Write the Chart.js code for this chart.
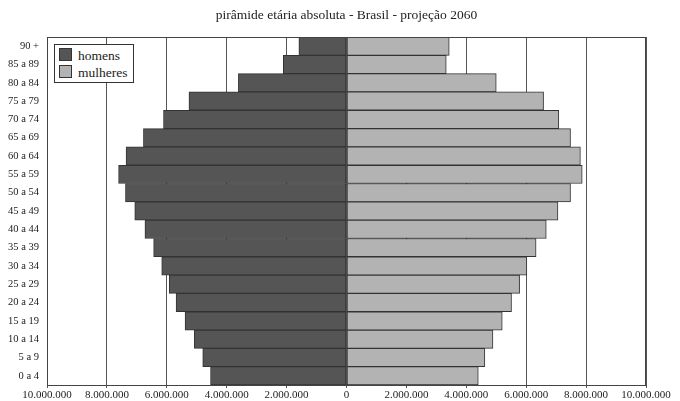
<!DOCTYPE html>
<html>
<head>
<meta charset="utf-8">
<script src="https://cdn.jsdelivr.net/npm/chart.js@4"></script>
<style>
  body { margin: 0; background: #fff; }
  #wrap { position: relative; width: 680px; height: 401px; }
  #legend {
    position: absolute; left: 54px; top: 44px; width: 74px;
    border: 1px solid #333; background: #fff; padding: 2px 0 1px 4px;
    font-family: "Liberation Serif", serif; font-size: 13.5px; color: #222;
  }
  #legend div { height: 17px; line-height: 17px; white-space: nowrap; }
  #legend span {
    display: inline-block; width: 11px; height: 11px; border: 1px solid #333;
    vertical-align: -1px; margin-right: 6px;
  }
</style>
</head>
<body>
<div id="wrap">
  <canvas id="myChart1"></canvas>
  <div id="legend"></div>
</div>
<script>
const ctx = document.getElementById('myChart1');

// faixas etárias, de cima para baixo
const faixas = ['90 +', '85 a 89', '80 a 84', '75 a 79', '70 a 74', '65 a 69', '60 a 64',
  '55 a 59', '50 a 54', '45 a 49', '40 a 44', '35 a 39', '30 a 34', '25 a 29',
  '20 a 24', '15 a 19', '10 a 14', '5 a 9', '0 a 4'];
const homens = [1590000, 2110000, 3610000, 5260000, 6110000, 6780000, 7360000,
  7610000, 7380000, 7070000, 6730000, 6440000, 6170000, 5920000,
  5690000, 5390000, 5080000, 4800000, 4540000];
const mulheres = [3430000, 3330000, 5000000, 6580000, 7090000, 7480000, 7810000,
  7870000, 7480000, 7060000, 6670000, 6330000, 6020000, 5780000,
  5510000, 5200000, 4890000, 4620000, 4400000];
const xTicks = [-10000000, -8000000, -6000000, -4000000, -2000000, 0,
  2000000, 4000000, 6000000, 8000000, 10000000];

const cores = { homens: '#555555', mulheres: '#b3b3b3' };

function fmt(v) {
  return Math.abs(v).toString().replace(/\B(?=(\d{3})+(?!\d))/g, '.');
}

// moldura da área do gráfico
const moldura = {
  id: 'moldura',
  afterDatasetsDraw(chart) {
    const a = chart.chartArea, c = chart.ctx;
    c.save();
    c.strokeStyle = '#444';
    c.lineWidth = 1;
    c.strokeRect(a.left + 0.5, a.top + 0.5, a.right - a.left - 1, a.bottom - a.top);
    c.restore();
  }
};

const chart = new Chart(ctx, {
  type: 'bar',
  data: {
    labels: faixas,
    datasets: [{
      label: 'homens',
      data: homens.map(v => -v),
      backgroundColor: cores.homens,
      borderColor: '#333',
      borderWidth: 1,
      borderSkipped: false
    }, {
      label: 'mulheres',
      data: mulheres,
      backgroundColor: cores.mulheres,
      borderColor: '#333',
      borderWidth: 1,
      borderSkipped: false
    }]
  },
  options: {
    indexAxis: 'y',
    responsive: true,
    maintainAspectRatio: false,
    animation: false,
    barPercentage: 1,
    categoryPercentage: 1,
    layout: { padding: { left: 0, right: 34, top: 0, bottom: 0 } },
    plugins: {
      legend: { display: false },
      tooltip: { enabled: false },
      title: {
        display: true,
        fullSize: false, // centralizado sobre a área do gráfico
        text: 'pirâmide etária absoluta - Brasil - projeção 2060',
        color: '#222',
        font: { family: 'Liberation Serif', size: 13.5, weight: 'normal' },
        padding: { top: 7, bottom: 13.8 }
      }
    },
    scales: {
      x: {
        stacked: true,
        min: -10000000,
        max: 10000000,
        afterBuildTicks: s => { s.ticks = xTicks.map(v => ({ value: v })); },
        afterFit: s => { s.height = 16; },
        grid: { color: '#555', tickLength: 3, drawTicks: true },
        border: { color: '#444' },
        ticks: {
          callback: v => fmt(v),
          color: '#222',
          padding: 1,
          maxRotation: 0,
          font: { family: 'Liberation Serif', size: 11 }
        }
      },
      y: {
        stacked: true,
        afterFit: s => { s.width = 47; },
        grid: { display: false, drawTicks: false },
        border: { color: '#444' },
        ticks: {
          color: '#222',
          padding: 8,
          font: { family: 'Liberation Serif', size: 10.5 }
        }
      }
    }
  },
  plugins: [moldura]
});

// legenda dentro da área
document.getElementById('legend').innerHTML = chart.data.datasets.map(d =>
  '<div><span style="background:' + d.backgroundColor + '"></span>' + d.label + '</div>'
).join('');
</script>
</body>
</html>
